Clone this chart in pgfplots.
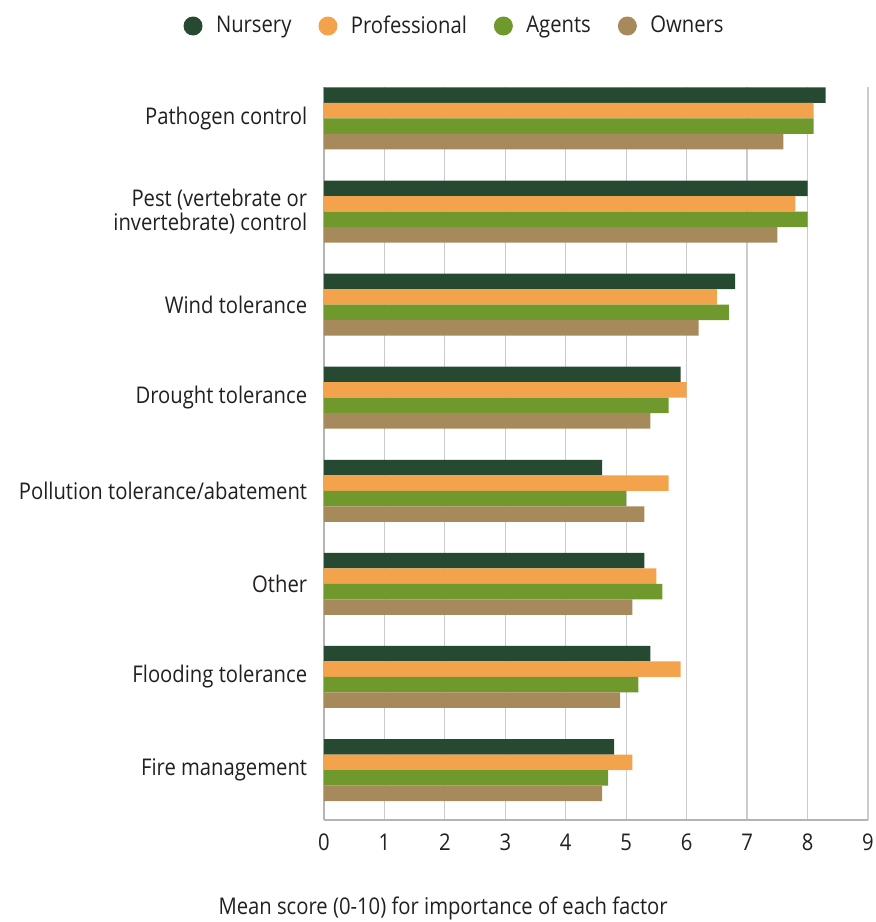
\documentclass[border=0pt]{standalone}
\usepackage{fontspec}
\setmainfont{Open Sans}[FakeStretch=0.88]
\usepackage{pgfplots}
\usepackage{pgfplotstable}
\pgfplotsset{compat=1.18}

\definecolor{nursery}{HTML}{264A31}
\definecolor{professional}{HTML}{F2A34C}
\definecolor{agents}{HTML}{6F982D}
\definecolor{owners}{HTML}{A68A5B}
\definecolor{gridc}{HTML}{CBCBCB}
\definecolor{axisc}{HTML}{B4B4B4}
\definecolor{textc}{HTML}{231F20}

% Mean importance scores (0-10); idx 7 = top row
\pgfplotstableread{
idx nursery professional agents owners
7 8.3 8.1 8.1 7.6
6 8.0 7.8 8.0 7.5
5 6.8 6.5 6.7 6.2
4 5.9 6.0 5.7 5.4
3 4.6 5.7 5.0 5.3
2 5.3 5.5 5.6 5.1
1 5.4 5.9 5.2 4.9
0 4.8 5.1 4.7 4.6
}\scores

\begin{document}
\fontsize{23}{24.5}\selectfont\color{textc}%
\begin{tikzpicture}
\useasboundingbox (-324pt,-102pt) rectangle (552pt,820pt);
\begin{axis}[
  scale only axis,
  width=544pt, height=733pt,
  xbar, bar width=15.5pt,
  xmin=0, xmax=9,
  ymin=-0.537, ymax=7.338,
  xtick={0,...,9},
  ytick={0,...,7},
  yticklabels={Fire management, Flooding tolerance, Other,
    Pollution tolerance/abatement, Drought tolerance, Wind tolerance,
    {Pest (vertebrate or\\invertebrate) control}, Pathogen control},
  yticklabel style={align=right, xshift=-9pt, text=textc},
  xticklabel style={yshift=-6pt, text=textc},
  /pgf/number format/assume math mode=true,
  major tick length=0pt,
  xmajorgrids,
  grid style={gridc, line width=1.2pt},
  axis lines*=left,
  axis line style={axisc, line width=1.5pt},
  xlabel={Mean score (0-10) for importance of each factor},
  xlabel style={at={(axis description cs:0.219,0)}, anchor=center, yshift=-88pt, text=textc},
  legend columns=4,
  legend style={at={(axis description cs:0.24,1)}, anchor=center, yshift=61pt,
    draw=none, fill=none, text=textc,
    /tikz/every even column/.append style={column sep=25pt}},
  legend image code/.code={\fill[#1] (0pt,0pt) circle (9.5pt); \path (21pt,0pt);},
]
\addplot[fill=nursery, draw=none, bar shift=23.25pt] table[x=nursery, y=idx] {\scores};
\addplot[fill=professional, draw=none, bar shift=7.75pt] table[x=professional, y=idx] {\scores};
\addplot[fill=agents, draw=none, bar shift=-7.75pt] table[x=agents, y=idx] {\scores};
\addplot[fill=owners, draw=none, bar shift=-23.25pt] table[x=owners, y=idx] {\scores};
\legend{Nursery, Professional, Agents, Owners}
\end{axis}
\end{tikzpicture}
\end{document}
